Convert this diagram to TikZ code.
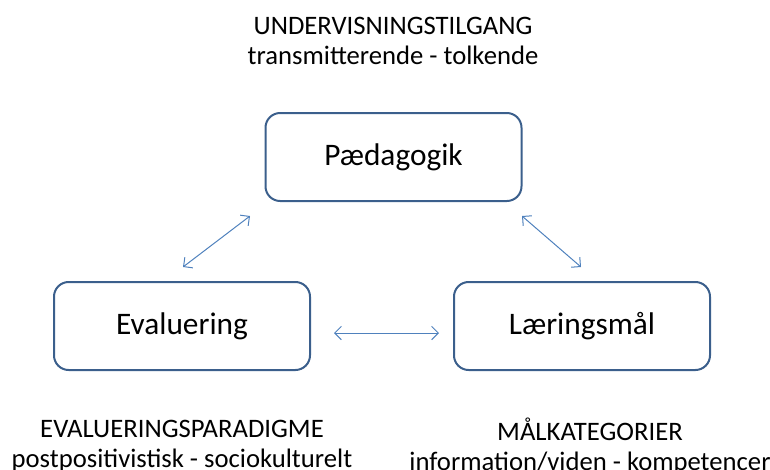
\documentclass[tikz,border=0pt]{standalone}
\usepackage{fontspec}
\setmainfont{Carlito}
\usetikzlibrary{positioning,arrows.meta}
\definecolor{boxblue}{HTML}{3B5F8C}
\definecolor{arrowblue}{HTML}{4F81BD}

\begin{document}
\begin{tikzpicture}[x=0.75pt,y=-0.75pt,
    felt/.style={draw=boxblue, line width=1.5pt, rounded corners=11pt,
      minimum width=192pt, minimum height=66pt, inner sep=0pt,
      font=\fontsize{23.5}{28}\selectfont},
    tekst/.style={align=center, inner sep=0pt, font=\fontsize{20}{22.5}\selectfont},
    pil/.style={arrowblue, line width=0.75pt,
      {Straight Barb[length=5pt,width=10pt]}-{Straight Barb[length=5pt,width=10pt]}}]
    \useasboundingbox (0,0) rectangle (770,469);

    % Felter
    \node[felt] (paed) at (393.5,157) {Pædagogik};
    \node[felt] (eval) at (182,326) {Evaluering};
    \node[felt] (maal) at (582,326) {Læringsmål};

    % Tekster
    \node[tekst] (tilgang) at (393,40.5) {UNDERVISNINGSTILGANG\\transmitterende - tolkende};
    \node[tekst] (paradigme) at (182,446) {EVALUERINGSPARADIGME\\postpositivistisk - sociokulturelt};
    \node[tekst] (kategorier) at (590,446) {MÅLKATEGORIER\\information/viden - kompetencer};

    % Pile
    \coordinate (ev1) at (183,267);
    \coordinate (pa1) at (250,216);
    \coordinate (pa2) at (522,216);
    \coordinate (ma1) at (581,267);
    \coordinate (ev2) at (334,333);
    \coordinate (ma2) at (439,333);
    \draw[pil] (ev1) -- (pa1);
    \draw[pil] (pa2) -- (ma1);
    \draw[pil] (ev2) -- (ma2);
\end{tikzpicture}
\end{document}
